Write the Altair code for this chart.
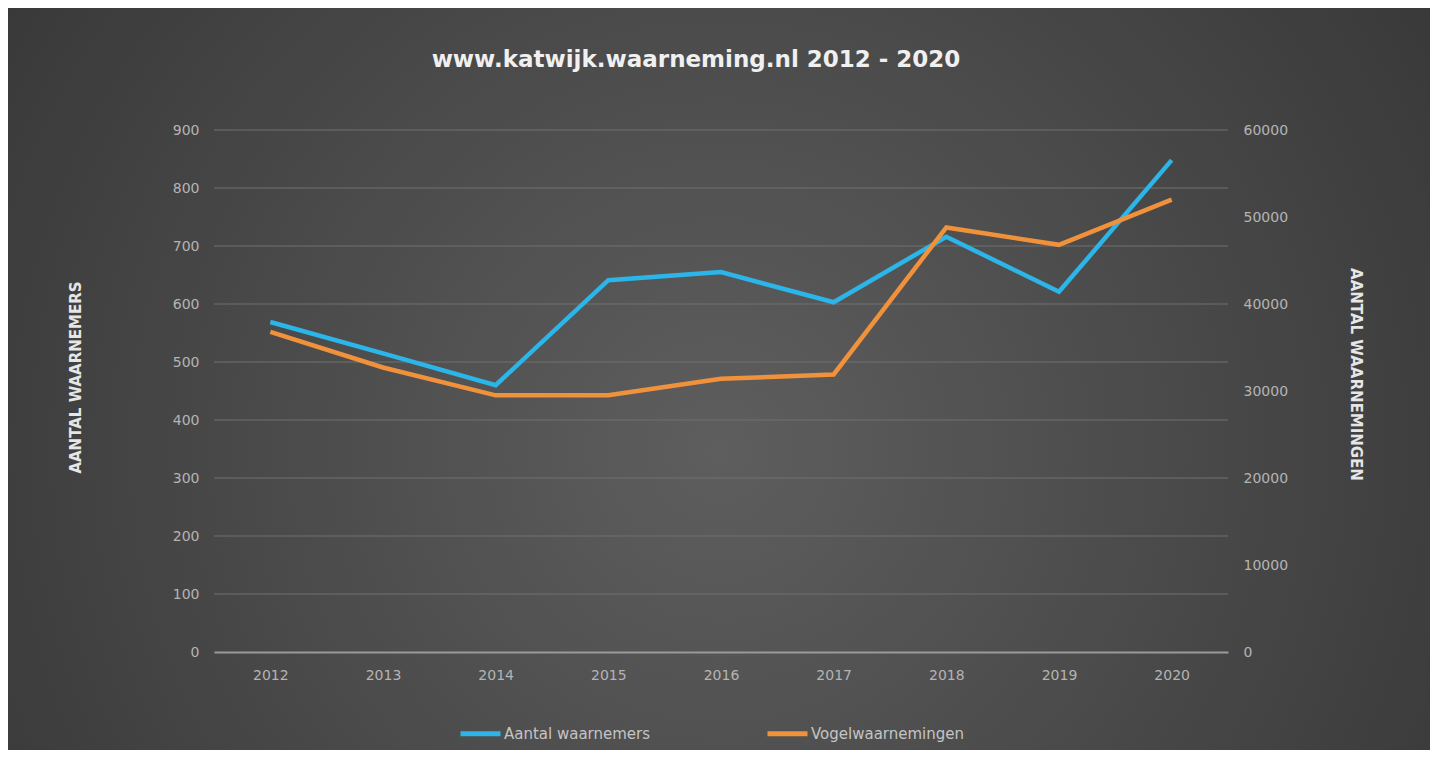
import altair as alt
import pandas as pd

years = ["2012", "2013", "2014", "2015", "2016", "2017", "2018", "2019", "2020"]
waarnemers = [569, 515, 460, 641, 655, 603, 716, 621, 848]
vogelwaarnemingen = [36800, 32700, 29500, 29500, 31400, 31900, 48800, 46800, 52000]
left_ticks = [0, 100, 200, 300, 400, 500, 600, 700, 800, 900]
right_ticks = [0, 10000, 20000, 30000, 40000, 50000, 60000]
grid_values = [100, 200, 300, 400, 500, 600, 700, 800, 900]
series = ["Aantal waarnemers", "Vogelwaarnemingen"]
colors = ["#2bb5e8", "#f0913c"]

df_w = pd.DataFrame({"jaar": years, "waarde": waarnemers, "reeks": series[0]})
df_v = pd.DataFrame({"jaar": years, "waarde": vogelwaarnemingen, "reeks": series[1]})
grid_df = pd.DataFrame({"v": grid_values})

W, H = 1014, 522
PL, PT, PR, PB = 206, 122, 202, 98
FONT = "DejaVu Sans"
LBL = "#b4b4b4"

color_scale = alt.Scale(domain=series, range=colors)

bg = alt.Chart(alt.Data(values=[{"a": 1}])).mark_rect(
    fill={
        "gradient": "radial",
        "stops": [
            {"offset": 0, "color": "#5e5e5e"},
            {"offset": 1, "color": "#2f2f2f"},
        ],
        "x1": 0.5, "y1": 0.55, "x2": 0.5, "y2": 0.55, "r1": 0, "r2": 0.75,
    }
).encode(
    x=alt.value(-PL), x2=alt.value(W + PR), y=alt.value(-PT), y2=alt.value(H + PB)
)

grid = alt.Chart(grid_df).mark_rule(color="#707070", strokeWidth=1).encode(
    y=alt.Y("v:Q", scale=alt.Scale(domain=[0, 900], nice=False, zero=True), axis=None)
)

xenc = alt.X(
    "jaar:O",
    sort=years,
    axis=alt.Axis(
        title=None, labelAngle=0, ticks=False, grid=False,
        domainColor="#9a9a9a", domainWidth=2, labelPadding=16,
        labelColor=LBL, labelFontSize=14, labelFont=FONT, zindex=1,
    ),
)

cenc = alt.Color("reeks:N", scale=color_scale, legend=alt.Legend(title=None))

blue = alt.Chart(df_w).mark_line(strokeWidth=4.5).encode(
    x=xenc,
    y=alt.Y(
        "waarde:Q",
        scale=alt.Scale(domain=[0, 900], nice=False, zero=True),
        axis=alt.Axis(
            orient="left", values=left_ticks, grid=False, domain=False, ticks=False,
            labelColor=LBL, labelFontSize=14, labelFont=FONT, labelPadding=15,
            title="AANTAL WAARNEMERS", titleColor="#e6e6e6", titleFontSize=15,
            titleFont=FONT, titleFontWeight="bold", titleAngle=-90,
            titleX=-139, titleY=247, titleAlign="center", titleBaseline="middle", zindex=1,
        ),
    ),
    color=cenc,
)

orange = alt.Chart(df_v).mark_line(strokeWidth=4.5).encode(
    x=xenc,
    y=alt.Y(
        "waarde:Q",
        scale=alt.Scale(domain=[0, 60000], nice=False, zero=True),
        axis=alt.Axis(
            orient="right", values=right_ticks, format="d", grid=False, domain=False, ticks=False,
            labelColor=LBL, labelFontSize=14, labelFont=FONT, labelPadding=15,
            title="AANTAL WAARNEMINGEN", titleColor="#e6e6e6", titleFontSize=15,
            titleFont=FONT, titleFontWeight="bold", titleAngle=90,
            titleX=127, titleY=244, titleAlign="center", titleBaseline="middle", zindex=1,
        ),
    ),
    color=cenc,
)

chart = alt.layer(bg, grid, blue, orange).resolve_scale(y="independent").properties(
    width=W,
    height=H,
    autosize=alt.AutoSizeParams(type="none"),
    padding={"left": PL, "top": PT, "right": PR, "bottom": PB},
    background="#3a3a3a",
    title=alt.TitleParams(
        "www.katwijk.waarneming.nl 2012 - 2020",
        color="#f0f0f0", fontSize=23, font=FONT, fontWeight="bold",
        anchor="middle", dx=-25, offset=-64, zindex=1,
    ),
).configure_view(stroke=None).configure_legend(
    orient="none", legendX=244, legendY=581, direction="horizontal",
    symbolType="stroke", symbolStrokeWidth=5, symbolSize=1600,
    labelColor="#c4c4c4", labelFontSize=15, labelFont=FONT,
    columnPadding=106, labelOffset=1, zindex=1,
)

chart.save("out.html", embed_options={"renderer": "svg", "actions": False})
